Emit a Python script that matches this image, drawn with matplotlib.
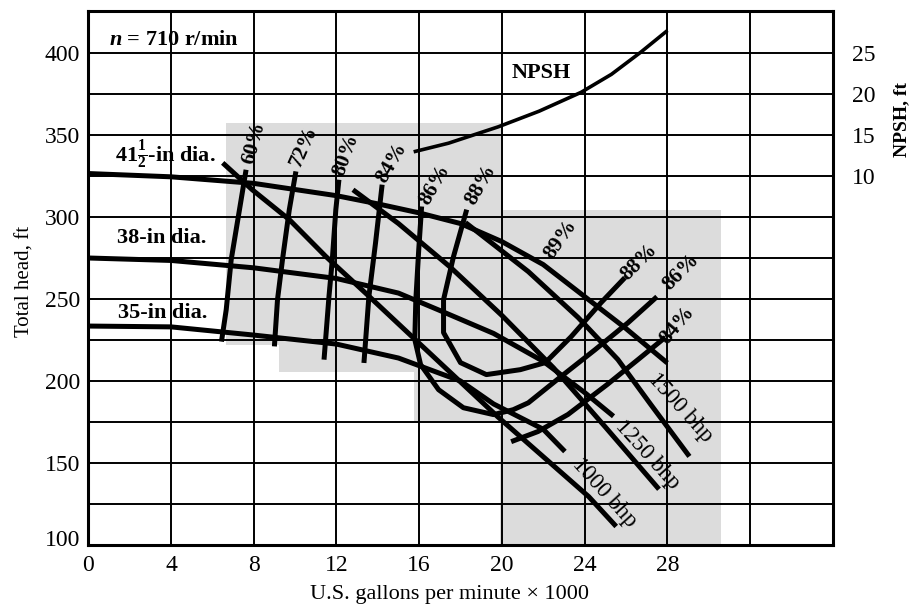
import matplotlib
matplotlib.use('Agg')
import matplotlib.pyplot as plt
import matplotlib.transforms as mtransforms
import numpy as np

plt.rcParams['font.family'] = ['Liberation Serif', 'DejaVu Serif']
plt.rcParams['mathtext.fontset'] = 'custom'
plt.rcParams['mathtext.rm'] = 'Liberation Serif:bold'
plt.rcParams['mathtext.it'] = 'Liberation Serif:italic:bold'
plt.rcParams['mathtext.bf'] = 'Liberation Serif:bold'

# ---------------- data (Q in 1000 gpm, H in ft) ----------------
x_ticks = [0, 4, 8, 12, 16, 20, 24, 28, 32, 36]
x_tick_labels = ['0', '4', '8', '12', '16', '20', '24', '28', '', '']
y_ticks = [100, 125, 150, 175, 200, 225, 250, 275, 300, 325, 350, 375, 400, 425]
y_tick_labels = ['100', '', '150', '', '200', '', '250', '', '300', '', '350', '', '400', '']
npsh_ticks = [10, 15, 20, 25]

head415_q = [0, 4, 8, 12, 14, 16, 18, 20, 22, 24, 26, 28]
head415_h = [326.5, 324.5, 320.5, 313, 308, 302.5, 296, 285, 271, 251.5, 232, 211]
head38_q = [0, 4, 8, 12, 15, 17, 19.6, 22, 24, 25.4]
head38_h = [275, 273.5, 269, 262.5, 253.6, 243, 229, 212, 193, 178.5]
head35_q = [0, 4, 8, 12, 15, 18, 19.6, 22, 23.05]
head35_h = [233.5, 233, 228, 222.5, 214, 200, 186, 170.6, 157]

eff60_q = [7.63, 7.31, 6.91, 6.67, 6.44]
eff60_h = [328.8, 304.4, 273.9, 243.5, 224.0]
eff72_q = [10.04, 9.72, 9.39, 9.15, 9.0]
eff72_h = [327.8, 304.4, 273.9, 249.6, 221.1]
eff80_q = [12.12, 11.97, 11.80, 11.64, 11.40]
eff80_h = [322.7, 304.4, 273.9, 251.6, 213.0]
eff84_q = [14.21, 13.89, 13.57, 13.33]
eff84_h = [319.7, 284.1, 251.6, 211.0]
eff86_q = [16.12, 15.98, 15.84, 15.79, 16.07, 16.94, 18.14, 19.6, 20.55, 21.28, 22.87, 24.5, 26.1, 27.5]
eff86_h = [306.4, 280, 249.6, 225.2, 210, 194.7, 183.7, 179.5, 182.5, 186.7, 202.8, 219, 235.5, 251.4]
eff88_q = [18.3, 17.66, 17.18, 17.18, 18.0, 19.25, 20.89, 22.1, 23.35, 24.8, 25.95]
eff88_h = [304.5, 275.8, 249.6, 229.5, 211.2, 203.9, 206.9, 211.2, 227, 247.8, 263]
eff84r_q = [20.45, 21.75, 23.2, 25.1, 26.6, 27.9]
eff84r_h = [163, 169.2, 179.6, 197.9, 213.2, 226.6]

bhp1000_q = [6.5, 7.93, 9.72, 11.48, 13.41, 16.0, 19.8, 24.2, 25.53]
bhp1000_h = [333, 316.6, 298.4, 276, 253.6, 223, 178.2, 129.5, 111.3]
bhp1250_q = [12.8, 15, 17.5, 20, 22.5, 25, 27.6]
bhp1250_h = [316.6, 296, 269.5, 240, 208, 172, 134]
bhp1500_q = [18.24, 21.28, 23.69, 25.61, 27.2, 29.07]
bhp1500_h = [296.6, 266.7, 238.7, 213.1, 185.7, 154.0]

npsh_q = [15.82, 17.42, 19.83, 21.8, 23.83, 25.3, 26.72, 27.94]
npsh_ft = [13.0, 14.0, 16.0, 17.9, 20.2, 22.4, 25.1, 27.6]

shade_q = [6.68, 20.07, 20.07, 30.58, 30.58, 19.93, 19.93, 15.74, 15.74, 9.23, 9.23, 6.68]
shade_h = [357.5, 357.5, 304.4, 304.4, 100, 100, 175.2, 175.2, 205.7, 205.7, 222.2, 222.2]

# ---------------- figure ----------------
fig = plt.figure(figsize=(9.11, 6.07), dpi=100)
ax = fig.add_axes([88.3 / 911, 62 / 607, 744.4 / 911, 534 / 607])
Y_TOP = 425.6
ax.set_xlim(0, 36)
ax.set_ylim(100, Y_TOP)

ax.fill(shade_q, shade_h, color='#dcdcdc', lw=0, zorder=0.2)

ax.set_xticks(x_ticks)
ax.set_xticklabels(x_tick_labels)
ax.set_yticks(y_ticks)
ax.set_yticklabels(y_tick_labels)
ax.set_axisbelow(True)
ax.grid(True, color='black', lw=1.4)
ax.tick_params(axis='both', length=0, labelsize=17)
ax.tick_params(axis='x', pad=7)
ax.tick_params(axis='y', pad=6)
for s in ax.spines.values():
    s.set_linewidth(2.2)

# raise the "100" label a little, as in the reference
lab100 = ax.yaxis.get_major_ticks()[0].label1
lab100.set_transform(lab100.get_transform() +
                     mtransforms.ScaledTranslation(0, 7 / 100, fig.dpi_scale_trans))

LW = 3.6
kw = dict(color='black', lw=LW, solid_capstyle='butt', solid_joinstyle='round', zorder=3)
for q, h in [(head415_q, head415_h), (head38_q, head38_h), (head35_q, head35_h),
             (eff60_q, eff60_h), (eff72_q, eff72_h), (eff80_q, eff80_h), (eff84_q, eff84_h),
             (eff86_q, eff86_h), (eff88_q, eff88_h), (eff84r_q, eff84r_h),
             (bhp1000_q, bhp1000_h), (bhp1250_q, bhp1250_h), (bhp1500_q, bhp1500_h)]:
    ax.plot(q, h, **kw)

# NPSH on the right axis
ax2 = ax.twinx()
ax2.set_ylim((100 - 275) / 5, (Y_TOP - 275) / 5)
ax2.set_yticks(npsh_ticks)
ax2.tick_params(axis='y', length=0, labelsize=17, pad=14)
for s in ax2.spines.values():
    s.set_visible(False)
ax2.plot(npsh_q, npsh_ft, color='black', lw=2.6, zorder=3)

# ---------------- text ----------------
def lab(x, y, s, rot=0, size=15.5, weight='bold'):
    ax.text(x, y, s, rotation=rot, rotation_mode='anchor', ha='center', va='center',
            fontsize=size, fontweight=weight, zorder=5)

lab(4.13, 408, r'$n$ = 710 r/min', size=16)
lab(3.74, 337.9, r'41$\frac{1}{2}$-in dia.', size=16)
lab(3.56, 287.4, '38-in dia.', size=16)
lab(3.61, 241.7, '35-in dia.', size=16)
lab(21.9, 388, 'NPSH', size=16)

lab(8.03, 345.3, '60%', rot=75)
lab(10.44, 342.9, '72%', rot=66)
lab(12.46, 338.0, '80%', rot=70)
lab(14.68, 333.1, '84%', rot=60)
lab(16.75, 319.7, '86%', rot=60)
lab(19.0, 319.7, '88%', rot=60)
lab(22.82, 286.2, '89%', rot=55)
lab(26.62, 272.7, '88%', rot=45)
lab(28.65, 266.6, '86%', rot=45)
lab(28.5, 233.7, '84%', rot=50)

lab(28.65, 183.7, '1500 bhp', rot=-48, size=16.5, weight='normal')
lab(27.06, 155.1, '1250 bhp', rot=-48, size=16.5, weight='normal')
lab(24.98, 131.9, '1000 bhp', rot=-48, size=16.5, weight='normal')

fig.text(450 / 911, 1 - 595 / 607, 'U.S. gallons per minute \u00d7 1000',
         ha='center', va='center', fontsize=16)
fig.text(25 / 911, 1 - 281 / 607, 'Total head, ft', rotation=90,
         ha='center', va='center', fontsize=15)
fig.text(902 / 911, 1 - 120 / 607, 'NPSH, ft', rotation=90,
         ha='center', va='center', fontsize=14, fontweight='bold')

fig.savefig('out.png', dpi=100)
